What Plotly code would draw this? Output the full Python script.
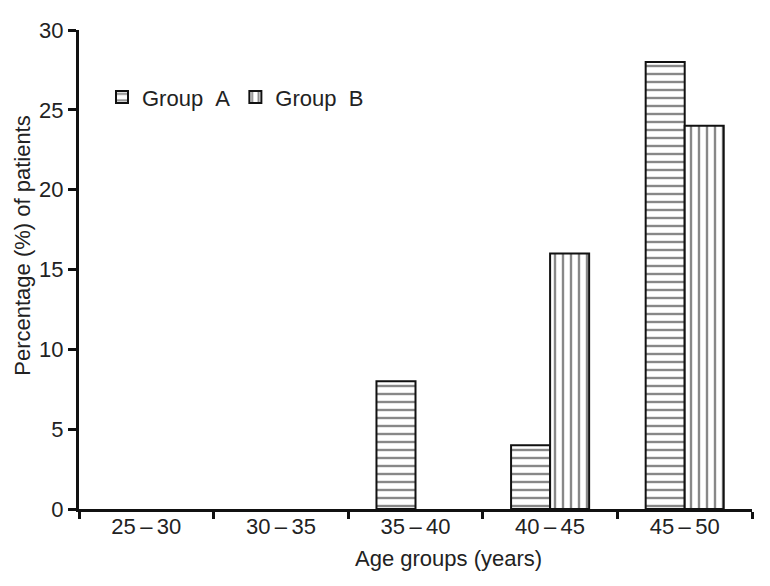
import plotly.graph_objects as go

categories = ["25\u2009\u2013\u200930", "30\u2009\u2013\u200935", "35\u2009\u2013\u200940", "40\u2009\u2013\u200945", "45\u2009\u2013\u200950"]
group_a = [0, 0, 8, 4, 28]
group_b = [0, 0, 0, 16, 24]

# page body has an 8px margin; size the figure so it fits in the 770x586 window
W, H = 754, 570
L, R, T, B = 71, 10, 17, 69
pw, ph = W - L - R, H - T - B

FS = 22
font = dict(family="Liberation Sans, Arial, sans-serif", size=FS, color="#222222")


def nonzero(vals):
    xs = [c for c, v in zip(categories, vals) if v != 0]
    ys = [v for v in vals if v != 0]
    return xs, ys


fig = go.Figure()
xa, ya = nonzero(group_a)
xb, yb = nonzero(group_b)
fig.add_trace(go.Bar(
    x=xa, y=ya, name="Group\u00a0\u00a0A", offsetgroup="A",
    marker=dict(color="white", line=dict(color="#111111", width=2),
                pattern=dict(shape="-", fgcolor="#111111", bgcolor="white", size=8, solidity=0.3)),
))
fig.add_trace(go.Bar(
    x=xb, y=yb, name="Group\u00a0\u00a0B", offsetgroup="B",
    marker=dict(color="white", line=dict(color="#111111", width=2),
                pattern=dict(shape="|", fgcolor="#111111", bgcolor="white", size=8, solidity=0.3)),
))

fig.update_layout(
    width=W, height=H,
    margin=dict(l=L, r=R, t=T, b=B, pad=0),
    paper_bgcolor="white", plot_bgcolor="white",
    font=font,
    barmode="group", bargap=0.42, bargroupgap=0,
    showlegend=True,
    legend=dict(orientation="h", x=(94 - L) / pw, xanchor="left", y=1 - (85 - T) / ph, yanchor="middle",
                bgcolor="rgba(0,0,0,0)", font=dict(size=FS), itemwidth=30, tracegroupgap=0),
    xaxis=dict(type="category", categoryorder="array", categoryarray=categories,
               range=[-0.5, 4.5], showline=True, linecolor="#111111", linewidth=3,
               ticks="outside", tickson="boundaries", ticklen=7, tickwidth=3, tickcolor="#111111",
               tickmode="array", tickvals=categories, ticktext=categories,
               ticklabelstandoff=-4,
               showgrid=False, zeroline=False),
    yaxis=dict(range=[0, 30], dtick=5, showline=True, linecolor="#111111", linewidth=3,
               ticks="outside", ticklen=8, tickwidth=3, tickcolor="#111111",
               showgrid=False, zeroline=False),
    annotations=[
        dict(text="Age groups (years)", xref="paper", yref="paper",
             x=(448 - 8 - L) / pw, y=-(551 - (H - B)) / ph, xanchor="center", yanchor="middle",
             showarrow=False, font=dict(size=FS)),
        dict(text="Percentage (%) of patients", xref="paper", yref="paper", textangle=-90,
             x=(15 - L) / pw, y=1 - (235 - T) / ph, xanchor="center", yanchor="middle",
             showarrow=False, font=dict(size=FS)),
    ],
)

fig.write_html("out.html")
